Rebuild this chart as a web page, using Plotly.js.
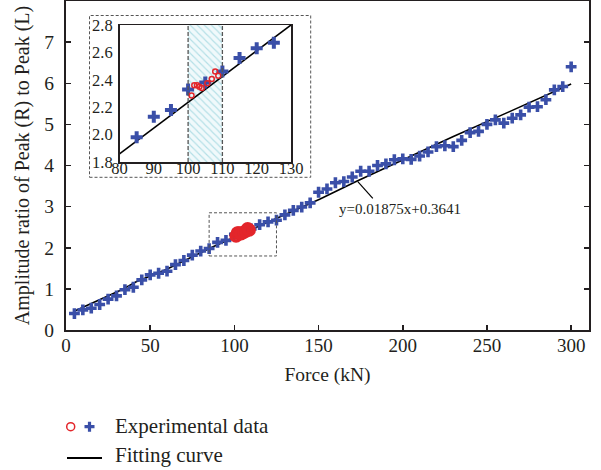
<!DOCTYPE html>
<html>
<head>
<meta charset="utf-8">
<script src="https://cdn.plot.ly/plotly-3.0.1.min.js"></script>
<style>html,body{margin:0;padding:0;background:#fff;}#chart{width:601px;height:470px;}</style>
</head>
<body>
<div id="chart"></div>
<script>
// ---- data ----
const forceKN = [5,10,15,20,25,30,35,40,45,50,55,60,65,70,75,80,85,90,95,100,
  105,110,115,120,125,130,135,140,145,150,155,160,165,170,175,180,185,190,195,200,
  205,210,215,220,225,230,235,240,245,250,255,260,265,270,275,280,285,290,295,300];
const ratioBlue = [0.40,0.49,0.53,0.62,0.75,0.83,0.98,1.04,1.22,1.34,1.38,1.43,1.59,1.69,1.82,1.92,1.98,2.13,2.18,2.33,
  2.38,2.46,2.56,2.63,2.67,2.80,2.91,2.99,3.09,3.35,3.43,3.58,3.61,3.72,3.86,3.86,4.00,4.04,4.14,4.16,
  4.15,4.23,4.33,4.46,4.48,4.46,4.61,4.80,4.83,5.00,5.11,5.03,5.15,5.23,5.42,5.43,5.60,5.84,5.92,6.40];
const redForce = [101.0,101.8,102.6,103.3,104.0,105.6,106.9,107.9,108.8];
const redRatio = [2.285,2.36,2.36,2.35,2.34,2.375,2.405,2.46,2.43];
const fitX = [4.5,33.7,41.7,59.5,87,107,145,150.6,172.3,204,229.7,263.4,300];
const fitY = [0.45,0.99,1.175,1.47,2.02,2.38,3.08,3.18,3.61,4.22,4.70,5.31,5.98];
const insetFitX = [80,130];
const insetFitY = [1.86,2.80];
const insetWindow = [85,125];   // blue points shown in the inset
const shadeBand = [100,110];
const xTicks = [0,50,100,150,200,250,300];
const yTicks = [0,1,2,3,4,5,6,7];
const insetXTicks = [80,90,100,110,120,130];
const insetYTicks = [1.8,2.0,2.2,2.4,2.6,2.8];
const insetYLabels = ['1.8','2.0','2.2','2.4','2.6','2.8'];
const zoomBoxX = [85,125];
const zoomBoxY = [1.8,2.85];
const fitLabel = 'y=0.01875x+0.3641';
const legendTexts = ['Experimental data','Fitting curve'];

const FONT = '"Liberation Serif", "DejaVu Serif", serif';
const INK = '#231f20';
const BLUE = '#3a4fa8';
const RED = '#e3262b';

const insetIdx = forceKN.map((f,i)=>i).filter(i => forceKN[i] >= insetWindow[0] && forceKN[i] <= insetWindow[1]);
const insetBlueX = insetIdx.map(i => forceKN[i]);
const insetBlueY = insetIdx.map(i => ratioBlue[i]);

const traces = [
  // main
  {x: fitX, y: fitY, type:'scatter', mode:'lines', line:{color:'#000', width:1.6}, xaxis:'x', yaxis:'y', hoverinfo:'skip'},
  {x: forceKN, y: ratioBlue, type:'scatter', mode:'markers', xaxis:'x', yaxis:'y',
   marker:{symbol:'cross', size:9, color:BLUE, line:{width:0}}},
  {x: redForce, y: redRatio, type:'scatter', mode:'markers', xaxis:'x', yaxis:'y',
   marker:{symbol:'circle-open', size:10, color:RED, line:{width:3.5, color:RED}}},
  // inset
  {x:[(shadeBand[0]+shadeBand[1])/2], y:[insetYTicks[insetYTicks.length-1]-insetYTicks[0]], base:[insetYTicks[0]],
   width:[shadeBand[1]-shadeBand[0]], type:'bar', xaxis:'x2', yaxis:'y2', hoverinfo:'skip',
   marker:{color:'#f0f9fb', line:{width:0}, pattern:{shape:'\\', fgcolor:'#b3dfe6', bgcolor:'#f0f9fb', size:5, solidity:0.22}}},
  {x: insetFitX, y: insetFitY, type:'scatter', mode:'lines', line:{color:'#000', width:1.6}, xaxis:'x2', yaxis:'y2'},
  {x: insetBlueX, y: insetBlueY, type:'scatter', mode:'markers', xaxis:'x2', yaxis:'y2',
   marker:{symbol:'cross', size:10, color:BLUE, line:{width:0}}},
  {x: redForce, y: redRatio, type:'scatter', mode:'markers', xaxis:'x2', yaxis:'y2',
   marker:{symbol:'circle-open', size:5, color:RED, line:{width:1.5, color:RED}}}
];

const L = 66, R = 12, T = 1, B = 140, W = 601, H = 470;
const pw = W - L - R, ph = H - T - B;
const px = v => (v - L) / pw;              // pixel -> paper x
const py = v => (H - B - v) / ph;          // pixel -> paper y

const layout = {
  width: W, height: H,
  margin: {l:L, r:R, t:T, b:B, pad:0},
  paper_bgcolor:'#fff', plot_bgcolor:'#fff',
  showlegend:false,
  font:{family:FONT, color:INK},
  bargap:0,
  xaxis:{domain:[0,1], range:[0,310.6], tickvals:xTicks, ticks:'inside', ticklen:5, tickwidth:1.5, tickcolor:INK,
    showline:true, linecolor:INK, linewidth:2, mirror:true, showgrid:false, zeroline:false,
    tickfont:{size:19, family:FONT, color:INK}, ticklabelstandoff:-3,
    title:{text:'Force (kN)', font:{size:19.5, family:FONT, color:INK}, standoff:13}},
  yaxis:{domain:[0,1], range:[0,8], tickvals:yTicks, ticks:'inside', ticklen:5, tickwidth:1.5, tickcolor:INK,
    showline:true, linecolor:INK, linewidth:2, mirror:'ticks', showgrid:false, zeroline:false,
    tickfont:{size:19.5, family:FONT, color:INK}, ticklabelstandoff:6,
    title:{text:'Amplitude ratio of Peak (R) to Peak (L)', font:{size:20, family:FONT, color:INK}, standoff:9}},
  xaxis2:{domain:[px(119.5), px(291)], anchor:'y2', range:[80,130], tickvals:insetXTicks, ticks:'',
    showline:true, linecolor:INK, linewidth:1.5, mirror:true, showgrid:false, zeroline:false,
    tickfont:{size:16.5, family:FONT, color:INK}, ticklabelstandoff:-9},
  yaxis2:{domain:[py(162), py(25)], anchor:'x2', range:[1.8,2.8], tickvals:insetYTicks, ticktext:insetYLabels, ticks:'',
    showline:true, linecolor:INK, linewidth:1.5, mirror:true, showgrid:false, zeroline:false,
    tickfont:{size:16.5, family:FONT, color:INK}, ticklabelstandoff:2},
  shapes:[
    {type:'rect', xref:'paper', yref:'paper', x0:px(89.5), x1:px(310.7), y0:py(177.3), y1:py(15.5),
     line:{color:'#555', width:1, dash:'3px,2px'}, fillcolor:'rgba(0,0,0,0)', layer:'below'},
    {type:'rect', xref:'x', yref:'y', x0:zoomBoxX[0], x1:zoomBoxX[1], y0:zoomBoxY[0], y1:zoomBoxY[1],
     line:{color:'#555', width:1, dash:'3px,2px'}, fillcolor:'rgba(0,0,0,0)'},
    {type:'line', xref:'x2', yref:'y2 domain', x0:shadeBand[0], x1:shadeBand[0], y0:0, y1:1, line:{color:'#555', width:1.3, dash:'4px,2px'}},
    {type:'line', xref:'x2', yref:'y2 domain', x0:shadeBand[1], x1:shadeBand[1], y0:0, y1:1, line:{color:'#555', width:1.3, dash:'4px,2px'}},
    {type:'line', xref:'x', yref:'y', x0:173.3, y0:3.61, x1:182.2, y1:3.20, line:{color:'#000', width:1.2}},
    {type:'circle', xref:'paper', yref:'paper', xsizemode:'pixel', ysizemode:'pixel', xanchor:px(70.7), yanchor:py(426.7),
     x0:-4, x1:4, y0:-4, y1:4, line:{color:RED, width:1.5}, fillcolor:'rgba(0,0,0,0)'},
    {type:'path', xref:'paper', yref:'paper', xsizemode:'pixel', ysizemode:'pixel', xanchor:px(89.5), yanchor:py(426.7),
     path:'M-1.6,-5 L1.6,-5 L1.6,-1.6 L5,-1.6 L5,1.6 L1.6,1.6 L1.6,5 L-1.6,5 L-1.6,1.6 L-5,1.6 L-5,-1.6 L-1.6,-1.6 Z',
     line:{width:0}, fillcolor:BLUE},
    {type:'line', xref:'paper', yref:'paper', x0:px(67), x1:px(102), y0:py(458), y1:py(458), line:{color:'#000', width:2}}
  ],
  annotations:[
    {xref:'x', yref:'y', x:161.2, y:2.944, xanchor:'left', yanchor:'middle', text:fitLabel, showarrow:false,
     font:{size:15, family:FONT, color:INK}},
    {xref:'paper', yref:'paper', x:px(113), y:py(426), xanchor:'left', yanchor:'middle', text:legendTexts[0], showarrow:false,
     font:{size:21, family:FONT, color:INK}},
    {xref:'paper', yref:'paper', x:px(113), y:py(455), xanchor:'left', yanchor:'middle', text:legendTexts[1], showarrow:false,
     font:{size:21, family:FONT, color:INK}}
  ]
};

Plotly.newPlot('chart', traces, layout, {staticPlot:true, displayModeBar:false});
</script>
</body>
</html>
